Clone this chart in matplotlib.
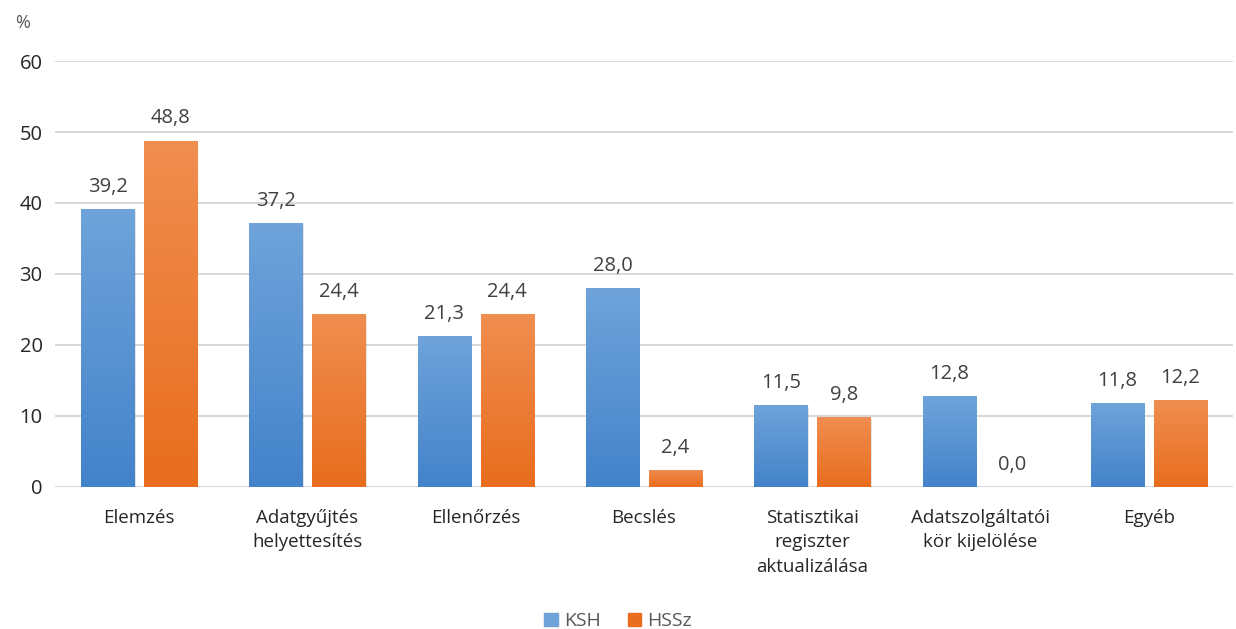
import matplotlib

matplotlib.use("Agg")
import matplotlib.pyplot as plt
import numpy as np
from matplotlib.colors import LinearSegmentedColormap
from matplotlib.patches import Patch

categories = [
    "Elemzés",
    "Adatgyűjtés\nhelyettesítés",
    "Ellenőrzés",
    "Becslés",
    "Statisztikai\nregiszter\naktualizálása",
    "Adatszolgáltatói\nkör kijelölése",
    "Egyéb",
]
ksh = [39.2, 37.2, 21.3, 28.0, 11.5, 12.8, 11.8]
hssz = [48.8, 24.4, 24.4, 2.4, 9.8, 0.0, 12.2]
series_names = ["KSH", "HSSz"]
yticks = [0, 10, 20, 30, 40, 50, 60]

plt.rcParams["font.family"] = ["Open Sans", "DejaVu Sans"]

blue_top, blue_bot = "#6fa3da", "#4383ca"
orange_top, orange_bot = "#f08e50", "#e86d1e"

fig = plt.figure(figsize=(12.36, 6.29), dpi=100)
ax = fig.add_axes([0.0445, 0.2258, 0.953, 0.6772])

x = np.arange(len(categories))
w = 0.315
off = 0.187


def gradient_bars(xs, vals, top, bot):
    bars = ax.bar(xs, vals, w, color="none", edgecolor="none", zorder=3)
    cmap = LinearSegmentedColormap.from_list("g", [bot, top])
    grad = np.linspace(0, 1, 256).reshape(-1, 1)
    for b in bars:
        h = b.get_height()
        if h <= 0:
            continue
        x0 = b.get_x()
        # soft shadow
        ax.bar(x0 + w / 2 + 0.008, h, w, bottom=-0.25, color="#000000", alpha=0.10, zorder=2)
        im = ax.imshow(grad, cmap=cmap, aspect="auto", origin="lower",
                       extent=(x0, x0 + w, 0, h), zorder=3)
        im.set_clip_path(b)
    return bars


gradient_bars(x - off, ksh, blue_top, blue_bot)
gradient_bars(x + off, hssz, orange_top, orange_bot)

for xs, vals in ((x - off, ksh), (x + off, hssz)):
    for xi, v in zip(xs, vals):
        ax.text(xi, v + 1.7, f"{v:.1f}".replace(".", ","), ha="center", va="bottom",
                fontsize=14.5, color="#404040")

ax.set_xlim(-0.5, len(categories) - 0.5)
ax.set_ylim(0, 60)
ax.set_yticks(yticks)
ax.set_yticklabels([str(t) for t in yticks], fontsize=14.5, color="#262626")
ax.set_xticks(x)
ax.set_xticklabels(categories, fontsize=13.5, color="#262626", linespacing=1.45)
ax.tick_params(axis="y", length=0, pad=9)
ax.tick_params(axis="x", length=0, pad=16)
ax.grid(axis="y", color="#d4d4d4", linewidth=1.3, zorder=0)
ax.set_axisbelow(True)
for s in ax.spines.values():
    s.set_visible(False)

fig.text(0.012, 0.956, "%", fontsize=13, color="#595959")

handles = [Patch(color=blue_top), Patch(color=orange_bot)]
fig.legend(handles, series_names, loc="lower center", bbox_to_anchor=(0.5, -0.03), ncol=2,
           frameon=False, fontsize=14, handlelength=0.7, handleheight=0.7,
           handletextpad=0.3, columnspacing=1.4, labelcolor="#595959")

fig.savefig("out.png")
plt.close(fig)
